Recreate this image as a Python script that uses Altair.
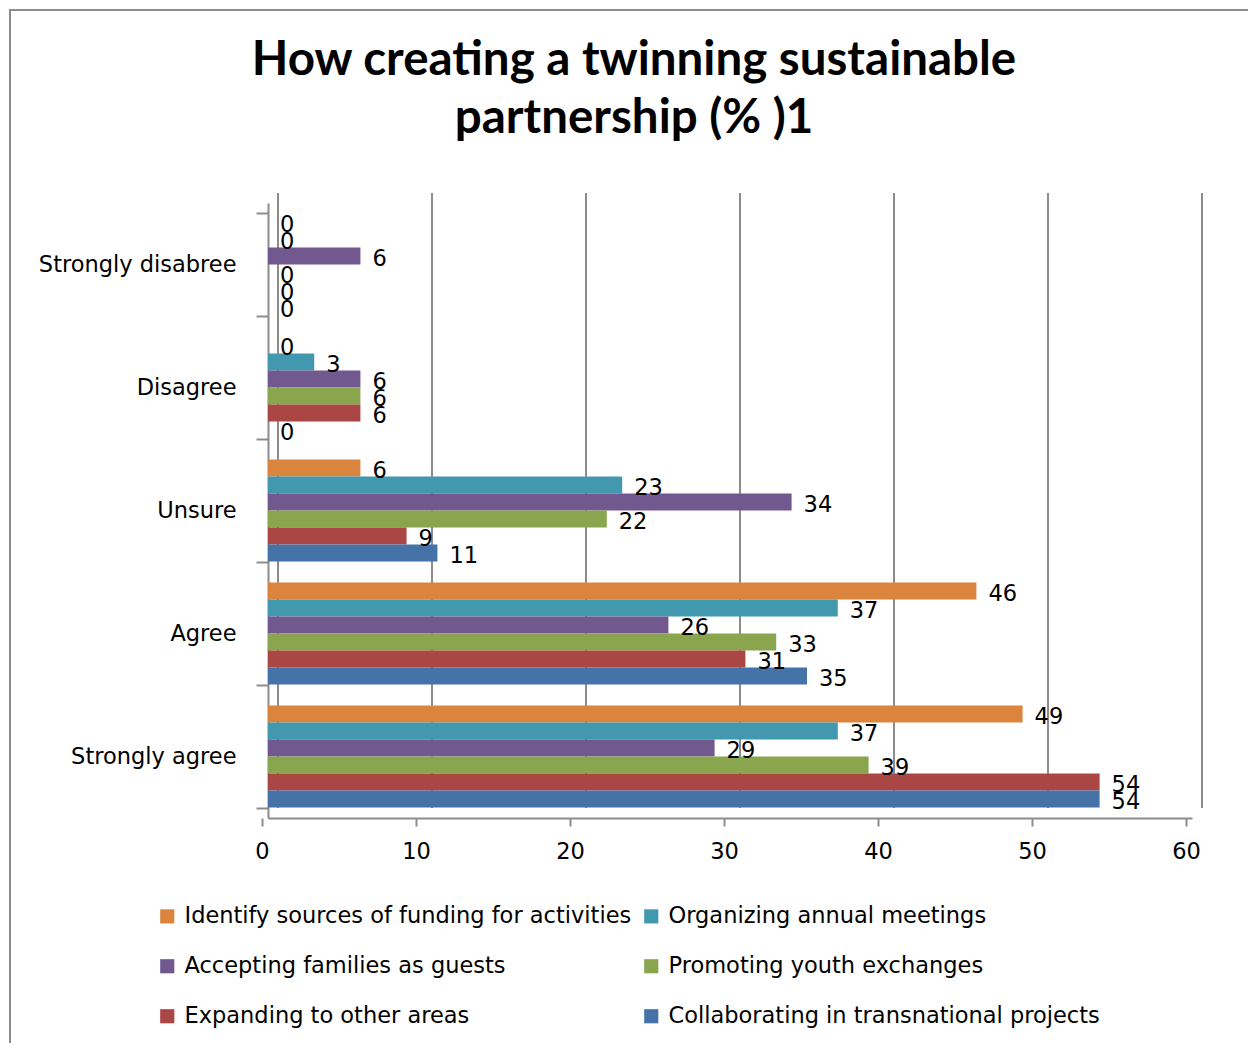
import altair as alt
import pandas as pd

categories = ["Strongly disabree", "Disagree", "Unsure", "Agree", "Strongly agree"]
series = [
    "Identify sources of funding for activities",
    "Organizing annual meetings",
    "Accepting families as guests",
    "Promoting youth exchanges",
    "Expanding to other areas",
    "Collaborating in transnational projects",
]
colors = ["#DB843D", "#4198AF", "#71588F", "#89A54E", "#AA4643", "#4572A7"]

identify = [0, 0, 6, 46, 49]
organizing = [0, 3, 23, 37, 37]
accepting = [6, 6, 34, 26, 29]
promoting = [0, 6, 22, 33, 39]
expanding = [0, 6, 9, 31, 54]
collaborating = [0, 0, 11, 35, 54]

x_ticks = [0, 10, 20, 30, 40, 50, 60]

rows = []
for s, vals in zip(series, [identify, organizing, accepting, promoting, expanding, collaborating]):
    for c, v in zip(categories, vals):
        rows.append({"category": c, "series": s, "value": v})
df = pd.DataFrame(rows)

# legend is laid out column by column: reorder so rows read like the reference
legend_order = [series[0], series[2], series[4], series[1], series[3], series[5]]
legend_colors = [colors[0], colors[2], colors[4], colors[1], colors[3], colors[5]]

FONT = "DejaVu Sans"
TITLE_FONT = "Lato"
GRAY = "#8c8c8c"
FS = 22.5

y_enc = alt.Y(
    "category:N",
    sort=categories,
    title=None,
    scale=alt.Scale(paddingInner=0.17, paddingOuter=0.085),
    axis=alt.Axis(
        labelFontSize=FS, labelColor="#000", labelFont=FONT, labelPadding=20,
        labelLimit=400,
        domainColor=GRAY, domainWidth=2, tickColor=GRAY, tickWidth=2,
        tickSize=12, tickBand="extent", grid=False,
    ),
)
x_enc = alt.X(
    "value:Q",
    title=None,
    scale=alt.Scale(domain=[0, 60], nice=False),
    axis=alt.Axis(
        values=x_ticks, labelFontSize=FS, labelColor="#000", labelFont=FONT,
        labelPadding=14, labelFlush=False, tickOffset=-6,
        grid=False, domainColor=GRAY, domainWidth=2,
        tickColor=GRAY, tickWidth=2, tickSize=8,
    ),
)
yoff = alt.YOffset("series:N", sort=series, scale=alt.Scale(paddingInner=0, paddingOuter=0))
color_enc = alt.Color(
    "series:N",
    scale=alt.Scale(domain=legend_order, range=legend_colors),
    legend=alt.Legend(
        title=None, orient="none", legendX=-112, legendY=702, columns=2,
        symbolType="square", symbolSize=200, symbolStrokeWidth=0,
        labelFontSize=FS, labelFont=FONT, labelColor="#000", labelLimit=700,
        rowPadding=27, columnPadding=8, symbolOffset=0, labelOffset=6,
    ),
)

grid = alt.Chart(pd.DataFrame({"value": x_ticks})).mark_rule(
    color=GRAY, strokeWidth=2, xOffset=10
).encode(
    x=alt.X("value:Q", scale=alt.Scale(domain=[0, 60], nice=False)),
    y=alt.value(-10), y2=alt.value(605),
)

bars = alt.Chart(df).mark_bar().encode(
    y=y_enc, x=x_enc, yOffset=yoff, color=color_enc,
)

labels = alt.Chart(df).mark_text(
    align="left", baseline="middle", dx=12, dy=3, fontSize=FS, font=FONT, color="#000"
).encode(
    y=alt.Y("category:N", sort=categories), x="value:Q", yOffset=yoff,
    text=alt.Text("value:Q"),
)

border = alt.Chart(alt.Data(values=[{}])).mark_rect(
    fill="transparent", stroke=GRAY, strokeWidth=2
).encode(
    x=alt.value(-258), x2=alt.value(985), y=alt.value(-193), y2=alt.value(845),
)

chart = alt.layer(border, grid, bars, labels).properties(
    width=924,
    height=615,
    background="white",
    title=alt.TitleParams(
        ["How creating a twinning sustainable", "partnership (% )1"],
        fontSize=47.5, font=TITLE_FONT, fontWeight="bold", color="#000",
        anchor="middle", dx=-96, offset=-133, lineHeight=58,
    ),
    autosize=alt.AutoSizeParams(type="none"),
    padding={"left": 268, "top": 203, "right": 56, "bottom": 225},
).configure_view(stroke="transparent", strokeWidth=0)

chart.save("out.html", embed_options={"renderer": "svg", "actions": False})
